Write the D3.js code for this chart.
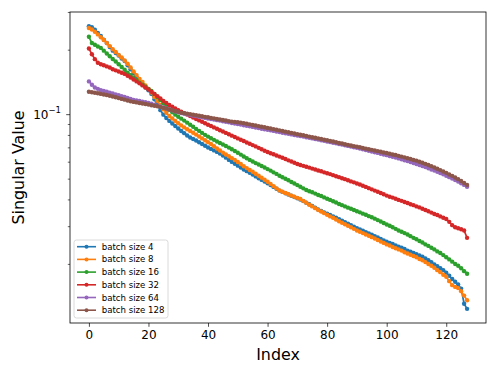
<!DOCTYPE html>
<html>
<head>
<meta charset="utf-8">
<script src="https://cdn.jsdelivr.net/npm/d3@7"></script>
<style>
  body { margin: 0; background: #fff; }
  svg { font-family: "DejaVu Sans", sans-serif; }
</style>
</head>
<body>
<svg id="chart" width="498" height="374"></svg>
<script>
// singular values per batch size, index 0..127
var bs4 = [0.259,0.256,0.249,0.241,0.233,0.224,0.216,0.207,0.199,0.194,0.189,0.183,0.178,0.170,0.163,0.156,0.149,0.1415,0.138,0.134,
  0.130,0.125,0.118,0.111,0.105,0.100,0.0965,0.0935,0.0910,0.0885,0.0862,0.0839,0.0820,0.0800,0.0782,0.0770,0.0757,0.0743,0.0730,0.0716,
  0.0703,0.0692,0.0681,0.0670,0.0659,0.0645,0.0630,0.0615,0.0602,0.0590,0.0578,0.0566,0.0555,0.0545,0.0535,0.0525,0.0515,0.0505,0.0496,0.0487,
  0.0478,0.0469,0.0460,0.0451,0.0442,0.0436,0.0430,0.0424,0.0418,0.0413,0.0407,0.0402,0.0395,0.0388,0.0382,0.0375,0.0368,0.0361,0.0355,0.0350,
  0.0345,0.0340,0.0335,0.0330,0.0325,0.0320,0.0315,0.0310,0.0305,0.0300,0.0295,0.0291,0.0287,0.0283,0.0279,0.0275,0.0271,0.0267,0.0263,0.0259,
  0.0255,0.0252,0.0249,0.0245,0.0242,0.0239,0.0236,0.0232,0.0229,0.0226,0.0223,0.0220,0.0217,0.0213,0.0209,0.0205,0.0200,0.0196,0.0192,0.0188,
  0.0183,0.0177,0.0171,0.0166,0.0161,0.0154,0.0131,0.0124];
var bs8 = [0.254,0.250,0.244,0.237,0.230,0.223,0.216,0.209,0.202,0.196,0.190,0.185,0.179,0.173,0.166,0.159,0.153,0.147,0.142,0.137,
  0.132,0.127,0.121,0.116,0.111,0.106,0.102,0.0986,0.0960,0.0935,0.0912,0.0891,0.0872,0.0855,0.0839,0.0823,0.0807,0.0791,0.0775,0.0759,
  0.0744,0.0729,0.0712,0.0695,0.0680,0.0665,0.0652,0.0640,0.0627,0.0614,0.0601,0.0588,0.0574,0.0563,0.0552,0.0541,0.0530,0.0519,0.0508,0.0497,
  0.0486,0.0475,0.0464,0.0453,0.0443,0.0437,0.0431,0.0425,0.0419,0.0414,0.0409,0.0404,0.0396,0.0388,0.0380,0.0373,0.0366,0.0359,0.0353,0.0347,
  0.0341,0.0335,0.0330,0.0324,0.0318,0.0313,0.0308,0.0303,0.0298,0.0293,0.0288,0.0284,0.0280,0.0276,0.0272,0.0268,0.0264,0.0260,0.0256,0.0252,
  0.0248,0.0245,0.0241,0.0238,0.0235,0.0232,0.0228,0.0225,0.0222,0.0219,0.0216,0.0212,0.0209,0.0205,0.0201,0.0197,0.0193,0.0188,0.0184,0.0179,
  0.0175,0.0167,0.0160,0.0157,0.0155,0.0150,0.0143,0.0136];
var bs16 = [0.231,0.216,0.212,0.208,0.205,0.199,0.193,0.1875,0.182,0.177,0.172,0.167,0.162,0.157,0.153,0.1486,0.145,0.141,0.138,0.135,
  0.132,0.129,0.125,0.121,0.117,0.113,0.109,0.1055,0.1025,0.1000,0.0978,0.0958,0.0938,0.0918,0.0898,0.0878,0.0858,0.0840,0.0822,0.0805,
  0.0790,0.0776,0.0763,0.0750,0.0738,0.0726,0.0714,0.0702,0.0690,0.0677,0.0664,0.0651,0.0638,0.0626,0.0615,0.0604,0.0594,0.0585,0.0576,0.0567,
  0.0557,0.0548,0.0538,0.0529,0.0519,0.0510,0.0502,0.0494,0.0485,0.0477,0.0469,0.0461,0.0453,0.0445,0.0439,0.0434,0.0428,0.0422,0.0417,0.0411,
  0.0405,0.0400,0.0394,0.0389,0.0383,0.0378,0.0373,0.0368,0.0364,0.0359,0.0354,0.0350,0.0345,0.0341,0.0336,0.0332,0.0327,0.0322,0.0317,0.0312,
  0.0307,0.0303,0.0298,0.0293,0.0288,0.0284,0.0280,0.0276,0.0271,0.0266,0.0262,0.0257,0.0253,0.0248,0.0244,0.0239,0.0235,0.0230,0.0226,0.0221,
  0.0216,0.0211,0.0206,0.0201,0.0197,0.0192,0.0186,0.0181];
var bs32 = [0.2035,0.1915,0.1816,0.1746,0.1720,0.1700,0.1680,0.1660,0.1630,0.1610,0.1590,0.1570,0.1550,0.1520,0.1490,0.1460,0.1430,0.1400,0.1370,0.1340,
  0.1310,0.1280,0.1250,0.1220,0.1190,0.1160,0.1135,0.1110,0.1088,0.1068,0.1050,0.1033,0.1017,0.1001,0.0985,0.0970,0.0955,0.0940,0.0926,0.0912,
  0.0898,0.0885,0.0872,0.0859,0.0846,0.0834,0.0822,0.0810,0.0798,0.0786,0.0775,0.0764,0.0753,0.0742,0.0731,0.0721,0.0711,0.0700,0.0689,0.0678,
  0.0669,0.0661,0.0653,0.0645,0.0637,0.0629,0.0621,0.0612,0.0604,0.0596,0.0588,0.0582,0.0577,0.0571,0.0566,0.0560,0.0555,0.0549,0.0544,0.0538,
  0.0533,0.0528,0.0522,0.0516,0.0511,0.0505,0.0500,0.0494,0.0488,0.0483,0.0477,0.0472,0.0466,0.0460,0.0454,0.0448,0.0442,0.0437,0.0431,0.0425,
  0.0419,0.0414,0.0410,0.0405,0.0400,0.0396,0.0391,0.0387,0.0382,0.0378,0.0373,0.0369,0.0364,0.0359,0.0354,0.0349,0.0344,0.0340,0.0335,0.0330,
  0.0326,0.0316,0.0305,0.0298,0.0295,0.0292,0.0288,0.0266];
var bs64 = [0.143,0.138,0.134,0.132,0.130,0.129,0.128,0.1268,0.1255,0.1243,0.1232,0.1221,0.1210,0.1197,0.1183,0.1172,0.1165,0.1158,0.1151,0.1143,
  0.1135,0.1124,0.1113,0.1102,0.1091,0.1080,0.1069,0.1058,0.1047,0.1036,0.1025,0.1018,0.1011,0.1004,0.0997,0.0990,0.0984,0.0978,0.0972,0.0966,
  0.0960,0.0955,0.0949,0.0943,0.0938,0.0932,0.0926,0.0921,0.0915,0.0910,0.0904,0.0899,0.0893,0.0888,0.0882,0.0877,0.0871,0.0866,0.0860,0.0855,
  0.0850,0.0845,0.0840,0.0834,0.0829,0.0824,0.0819,0.0814,0.0809,0.0804,0.0800,0.0795,0.0790,0.0785,0.0780,0.0775,0.0770,0.0765,0.0760,0.0755,
  0.0750,0.0745,0.0740,0.0735,0.0730,0.0725,0.0720,0.0715,0.0710,0.0705,0.0700,0.0695,0.0690,0.0684,0.0679,0.0673,0.0668,0.0663,0.0657,0.0652,
  0.0647,0.0641,0.0636,0.0631,0.0625,0.0619,0.0613,0.0607,0.0601,0.0595,0.0588,0.0582,0.0576,0.0569,0.0562,0.0555,0.0548,0.0541,0.0534,0.0527,
  0.0519,0.0511,0.0503,0.0495,0.0487,0.0478,0.0470,0.0461];
var bs128 = [0.1280,0.1273,0.1265,0.1258,0.1250,0.1243,0.1235,0.1225,0.1215,0.1205,0.1195,0.1185,0.1175,0.1164,0.1154,0.1147,0.1141,0.1134,0.1127,0.1121,
  0.1114,0.1107,0.1101,0.1094,0.1085,0.1076,0.1067,0.1058,0.1049,0.1040,0.1031,0.1022,0.1016,0.1011,0.1005,0.0999,0.0994,0.0988,0.0983,0.0977,
  0.0972,0.0966,0.0961,0.0955,0.0950,0.0944,0.0939,0.0933,0.0928,0.0925,0.0921,0.0918,0.0912,0.0907,0.0901,0.0895,0.0890,0.0884,0.0878,0.0873,
  0.0867,0.0862,0.0856,0.0850,0.0845,0.0839,0.0833,0.0828,0.0822,0.0817,0.0811,0.0806,0.0801,0.0796,0.0790,0.0785,0.0780,0.0775,0.0770,0.0764,
  0.0759,0.0754,0.0749,0.0744,0.0738,0.0733,0.0728,0.0723,0.0718,0.0713,0.0709,0.0704,0.0699,0.0694,0.0690,0.0685,0.0680,0.0676,0.0671,0.0666,
  0.0662,0.0657,0.0652,0.0648,0.0642,0.0637,0.0632,0.0626,0.0621,0.0615,0.0610,0.0603,0.0596,0.0589,0.0582,0.0575,0.0567,0.0559,0.0551,0.0543,
  0.0535,0.0526,0.0518,0.0509,0.0500,0.0490,0.0480,0.0470];

var seriesNames = ["batch size 4", "batch size 8", "batch size 16", "batch size 32", "batch size 64", "batch size 128"];
var seriesValues = [bs4, bs8, bs16, bs32, bs64, bs128];
var colors = ["#1f77b4", "#ff7f0e", "#2ca02c", "#d62728", "#9467bd", "#8c564b"];
var xTicks = [0, 20, 40, 60, 80, 100, 120];

var svg = d3.select("#chart"),
    margin = {left: 70, top: 12, right: 12, bottom: 51},
    width = +svg.attr("width") - margin.left - margin.right,
    height = +svg.attr("height") - margin.top - margin.bottom;

var n = bs4.length;
var allVals = d3.merge(seriesValues);
var lmin = Math.log10(d3.min(allVals)), lmax = Math.log10(d3.max(allVals));
var lpad = (lmax - lmin) * 0.05;

var x = d3.scaleLinear()
    .domain([-(n - 1) * 0.05, (n - 1) * 1.05])
    .range([margin.left, margin.left + width]);

var y = d3.scaleLog()
    .domain([Math.pow(10, lmin - lpad), Math.pow(10, lmax + lpad)])
    .range([margin.top + height, margin.top]);

var g = svg.append("g");

// lines + dots
var line = d3.line()
    .x(function (d, i) { return x(i); })
    .y(function (d) { return y(d); });

seriesValues.forEach(function (vals, k) {
    var s = g.append("g");
    s.append("path")
        .datum(vals)
        .attr("fill", "none")
        .attr("stroke", colors[k])
        .attr("stroke-width", 1.7)
        .attr("stroke-linejoin", "round")
        .attr("d", line);
    s.selectAll("circle")
        .data(vals)
        .enter().append("circle")
        .attr("cx", function (d, i) { return x(i); })
        .attr("cy", function (d) { return y(d); })
        .attr("r", 2.2)
        .attr("fill", colors[k]);
});

// x axis
var xAxis = svg.append("g")
    .attr("transform", "translate(0," + (margin.top + height) + ")")
    .call(d3.axisBottom(x).tickValues(xTicks).tickSize(3.8).tickPadding(3.5).tickFormat(d3.format("d")));
xAxis.select(".domain").remove();
xAxis.selectAll("text").attr("font-size", 12).attr("fill", "#000").attr("font-family", "DejaVu Sans");
xAxis.selectAll("line").attr("stroke", "#000").attr("stroke-width", 0.7);

// y axis: major at decades, minor between
var yd = y.domain();
var majors = [], minors = [];
for (var e = Math.floor(Math.log10(yd[0])); e <= Math.ceil(Math.log10(yd[1])); e++) {
    for (var m = 1; m < 10; m++) {
        var v = m * Math.pow(10, e);
        if (v < yd[0] || v > yd[1]) continue;
        if (m === 1) majors.push(v); else minors.push(v);
    }
}
var yAxis = svg.append("g");
yAxis.selectAll("line.minor")
    .data(minors)
    .enter().append("line")
    .attr("x1", margin.left - 2.2).attr("x2", margin.left)
    .attr("y1", function (d) { return y(d); }).attr("y2", function (d) { return y(d); })
    .attr("stroke", "#000").attr("stroke-width", 0.6);
yAxis.selectAll("line.major")
    .data(majors)
    .enter().append("line")
    .attr("x1", margin.left - 3.8).attr("x2", margin.left)
    .attr("y1", function (d) { return y(d); }).attr("y2", function (d) { return y(d); })
    .attr("stroke", "#000").attr("stroke-width", 0.7);
var ylab = yAxis.selectAll("text.major")
    .data(majors)
    .enter().append("text")
    .attr("x", margin.left - 9)
    .attr("y", function (d) { return y(d) + 4.5; })
    .attr("text-anchor", "end")
    .attr("font-size", 12)
    .attr("fill", "#000");
ylab.append("tspan").text("10");
ylab.append("tspan")
    .attr("dy", -6)
    .attr("font-size", 8.5)
    .text(function (d) { return "\u2212" + (-Math.round(Math.log10(d))); });

// frame
svg.append("rect")
    .attr("x", margin.left).attr("y", margin.top)
    .attr("width", width).attr("height", height)
    .attr("fill", "none").attr("stroke", "#000").attr("stroke-width", 0.8);

// labels
svg.append("text")
    .attr("x", margin.left + width / 2)
    .attr("y", 360)
    .attr("text-anchor", "middle")
    .attr("font-size", 15.9)
    .text("Index");
svg.append("text")
    .attr("transform", "translate(24," + (margin.top + height / 2) + ") rotate(-90)")
    .attr("text-anchor", "middle")
    .attr("font-size", 15.9)
    .text("Singular Value");

// legend
var lg = svg.append("g").attr("transform", "translate(74,240)");
lg.append("rect")
    .attr("width", 94).attr("height", 78)
    .attr("rx", 2.5)
    .attr("fill", "#fff").attr("fill-opacity", 0.8)
    .attr("stroke", "#d0d0d0").attr("stroke-width", 0.8);
seriesNames.forEach(function (name, k) {
    var row = lg.append("g").attr("transform", "translate(0," + (6.7 + k * 12.7) + ")");
    row.append("line")
        .attr("x1", 3).attr("x2", 22)
        .attr("stroke", colors[k]).attr("stroke-width", 1.6);
    row.append("circle").attr("cx", 12.5).attr("cy", 0).attr("r", 2).attr("fill", colors[k]);
    row.append("text")
        .attr("x", 27.7).attr("y", 3)
        .attr("font-size", 8.6)
        .text(name);
});
</script>
</body>
</html>
